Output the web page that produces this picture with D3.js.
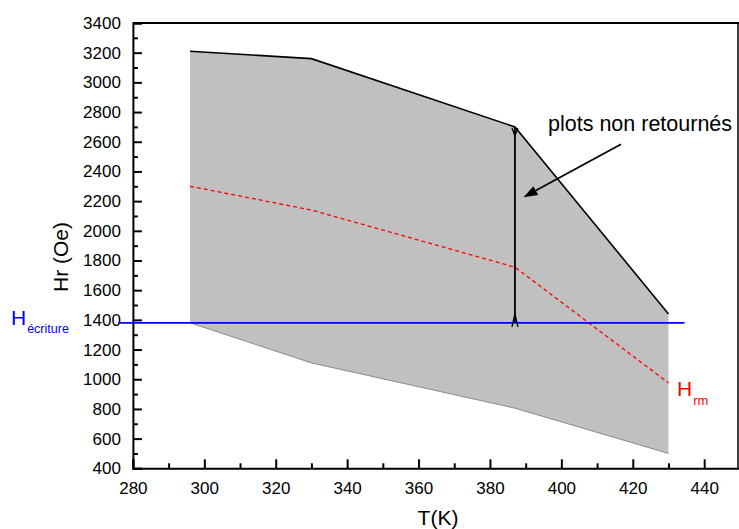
<!DOCTYPE html>
<html>
<head>
<meta charset="utf-8">
<script src="https://cdn.jsdelivr.net/npm/d3@7/dist/d3.min.js"></script>
<style>
  html, body { margin: 0; padding: 0; background: #fff; }
  svg { display: block; font-family: Arial, "Liberation Sans", sans-serif; }
</style>
</head>
<body>
<svg id="chart" width="739" height="529"></svg>
<script>
// ---- data ----
const temps = [296, 330, 387, 430];
const hrMax = [3210, 3160, 2700, 1440];
const hrMin = [1380, 1110, 805, 500];
const hrm = [2300, 2140, 1755, 975];
const hEcriture = 1380;
const hEcritureRange = [276, 434.5];
const arrowT = 387;
const annotFrom = [416.7, 2583];
const annotTo = [389.4, 2226];
const xTicks = [280, 300, 320, 340, 360, 380, 400, 420, 440];
const xMinor = [290, 310, 330, 350, 370, 390, 410, 430, 450];
const yTicks = [400, 600, 800, 1000, 1200, 1400, 1600, 1800, 2000, 2200, 2400, 2600, 2800, 3000, 3200, 3400];
const yMinor = [500, 700, 900, 1100, 1300, 1500, 1700, 1900, 2100, 2300, 2500, 2700, 2900, 3100, 3300];

(function () {
// ---- layout ----
const pLeft = 132.9, pRight = 739.9, pTop = 23, pBottom = 468.3;
const svg = d3.select("#chart");
const x = d3.scaleLinear().domain([280, 450]).range([pLeft, pRight]);
const y = d3.scaleLinear().domain([400, 3400]).range([pBottom, pTop]);

const pts = temps.map((t, i) => ({t, max: hrMax[i], min: hrMin[i], rm: hrm[i]}));

// gray area
svg.append("path")
  .datum(pts)
  .attr("fill", "#c0c0c0")
  .attr("d", d3.area().x(d => x(d.t)).y0(d => y(d.min)).y1(d => y(d.max)));

// bottom edge
svg.append("path")
  .datum(pts)
  .attr("fill", "none").attr("stroke", "#777").attr("stroke-width", 0.8)
  .attr("d", d3.line().x(d => x(d.t)).y(d => y(d.min)));

// top edge
svg.append("path")
  .datum(pts)
  .attr("fill", "none").attr("stroke", "#000").attr("stroke-width", 1.6)
  .attr("d", d3.line().x(d => x(d.t)).y(d => y(d.max)));

// red dashed Hrm
svg.append("path")
  .datum(pts)
  .attr("fill", "none").attr("stroke", "#ff0000").attr("stroke-width", 1.3)
  .attr("stroke-dasharray", "4,3")
  .attr("d", d3.line().x(d => x(d.t)).y(d => y(d.rm)));

// axes
const gx = svg.append("g").attr("transform", `translate(0,${pBottom})`)
  .call(d3.axisBottom(x).tickValues(xTicks).tickSize(-9).tickPadding(14).tickFormat(d3.format("d")));
const gxm = svg.append("g").attr("transform", `translate(0,${pBottom})`)
  .call(d3.axisBottom(x).tickValues(xMinor).tickSize(-5).tickFormat(""));
const gy = svg.append("g").attr("transform", `translate(${pLeft},0)`)
  .call(d3.axisLeft(y).tickValues(yTicks).tickSize(-9).tickPadding(12).tickFormat(d3.format("d")));
const gym = svg.append("g").attr("transform", `translate(${pLeft},0)`)
  .call(d3.axisLeft(y).tickValues(yMinor).tickSize(-5).tickFormat(""));
[gx, gxm, gy, gym].forEach(g => {
  g.select(".domain").attr("stroke", "#000").attr("stroke-width", 2);
  g.selectAll(".tick line").attr("stroke", "#000").attr("stroke-width", 2);
  g.selectAll("text").attr("font-size", 17).attr("fill", "#000")
    .attr("font-family", "Arial, 'Liberation Sans', sans-serif");
});
gxm.select(".domain").remove();
gym.select(".domain").remove();

// top and right frame
svg.append("line").attr("x1", pLeft).attr("x2", pRight).attr("y1", pTop).attr("y2", pTop)
  .attr("stroke", "#000").attr("stroke-width", 2);
svg.append("line").attr("x1", 738).attr("x2", 738).attr("y1", pTop).attr("y2", pBottom)
  .attr("stroke", "#000").attr("stroke-width", 1.5);

// blue H ecriture line
svg.append("line")
  .attr("x1", x(hEcritureRange[0])).attr("x2", x(hEcritureRange[1]))
  .attr("y1", y(hEcriture)).attr("y2", y(hEcriture))
  .attr("stroke", "#0000ff").attr("stroke-width", 1.8);

// vertical double arrow
const ax = x(arrowT), ayTop = y(hrMax[2]), ayBot = y(hEcriture);
svg.append("line").attr("x1", ax).attr("x2", ax).attr("y1", ayTop).attr("y2", ayBot)
  .attr("stroke", "#000").attr("stroke-width", 1.8);
svg.append("path")
  .attr("d", `M${ax-3},${ayTop+1}L${ax},${ayTop+9}L${ax+3},${ayTop+1}`)
  .attr("fill", "none").attr("stroke", "#000").attr("stroke-width", 1.3);
svg.append("path")
  .attr("d", `M${ax-3},${ayBot+4}L${ax},${ayBot-9}L${ax+3},${ayBot+4}`)
  .attr("fill", "none").attr("stroke", "#000").attr("stroke-width", 1.3);

// annotation arrow
const x1 = x(annotFrom[0]), y1 = y(annotFrom[1]), x2 = x(annotTo[0]), y2 = y(annotTo[1]);
const ang = Math.atan2(y2 - y1, x2 - x1);
const hl = 14, hw = 5;
const bx = x2 - hl * Math.cos(ang), by = y2 - hl * Math.sin(ang);
svg.append("line").attr("x1", x1).attr("y1", y1).attr("x2", bx).attr("y2", by)
  .attr("stroke", "#000").attr("stroke-width", 1.8);
svg.append("path")
  .attr("d", `M${x2},${y2}L${bx + hw*Math.sin(ang)},${by - hw*Math.cos(ang)}L${bx - hw*Math.sin(ang)},${by + hw*Math.cos(ang)}Z`)
  .attr("fill", "#000");

svg.append("text").attr("x", 548).attr("y", 131).attr("font-size", 21.5).attr("fill", "#000")
  .text("plots non retournés");

// axis titles
svg.append("text").attr("x", 438).attr("y", 525).attr("text-anchor", "middle")
  .attr("font-size", 21).attr("fill", "#000").text("T(K)");
svg.append("text").attr("transform", "translate(68,257) rotate(-90)").attr("text-anchor", "middle")
  .attr("font-size", 21).attr("fill", "#000").text("Hr (Oe)");

// labels
const le = svg.append("text").attr("x", 11).attr("y", 325).attr("fill", "#0000ff");
le.append("tspan").attr("font-size", 21).text("H");
le.append("tspan").attr("font-size", 12.5).attr("dy", 8).attr("dx", 1).text("écriture");

const lr = svg.append("text").attr("x", 677).attr("y", 396).attr("fill", "#ff0000");
lr.append("tspan").attr("font-size", 21).text("H");
lr.append("tspan").attr("font-size", 13).attr("dy", 9).attr("dx", 1).text("rm");
})();
</script>
</body>
</html>
